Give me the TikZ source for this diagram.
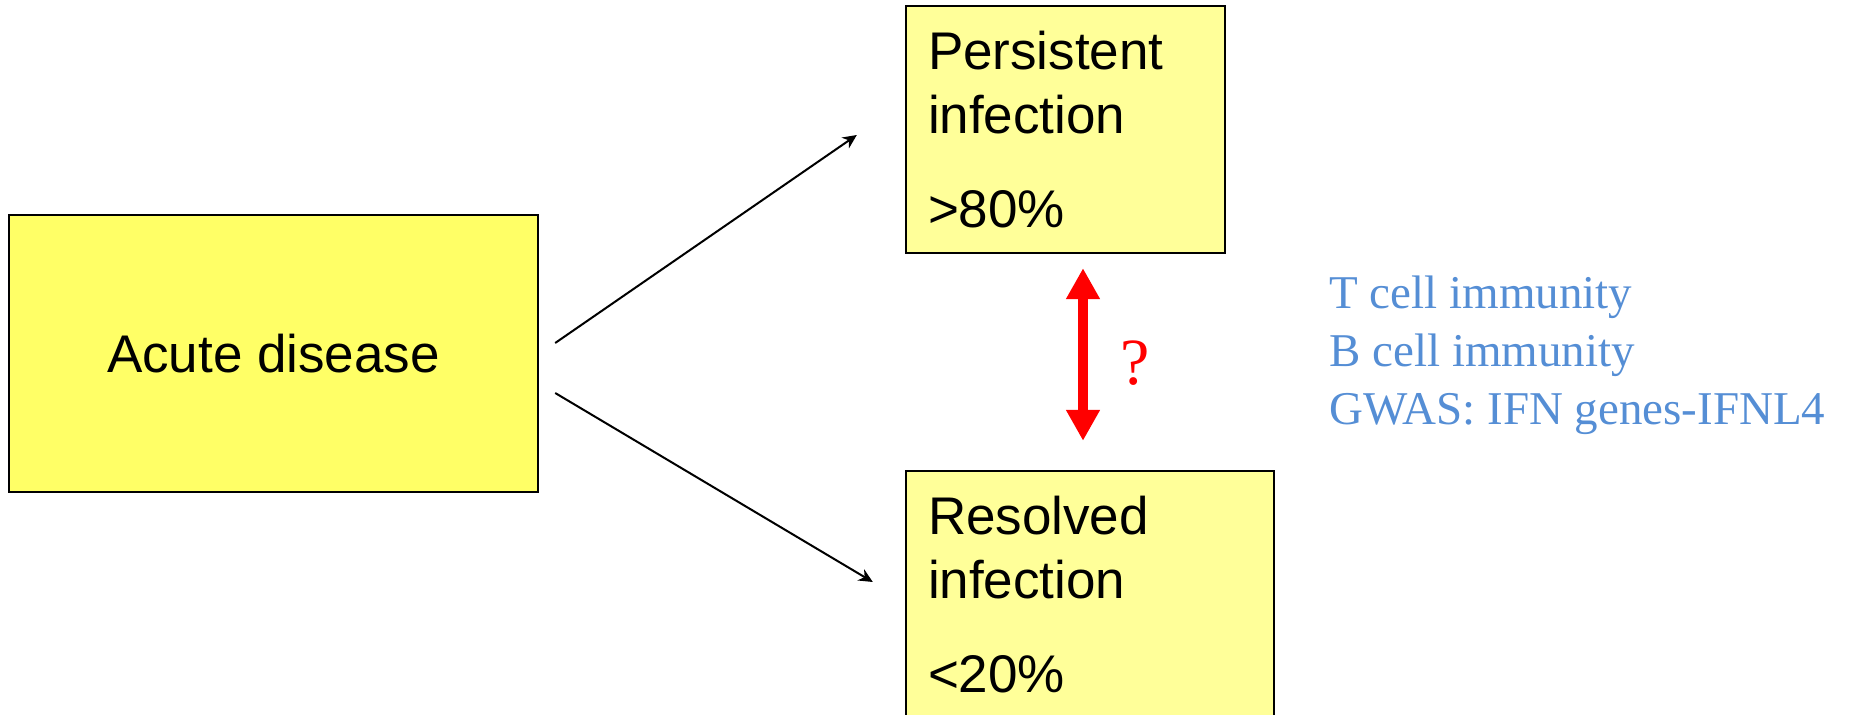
\documentclass[tikz,border=0pt]{standalone}
\usepackage{fontspec}
\setmainfont{Liberation Sans}
\newfontfamily\timesfont{Liberation Serif}
\usetikzlibrary{arrows.meta}
\definecolor{acuteyellow}{HTML}{FFFF66}
\definecolor{paleyellow}{HTML}{FFFF99}
\definecolor{factorblue}{HTML}{558ED5}
\tikzset{
  box/.style={draw=black,line width=1.2pt,inner sep=0pt,
    font=\fontsize{26.5}{32}\selectfont},
  outcome/.style={box,fill=paleyellow,align=left,minimum height=123.5pt},
  flow/.style={line width=1pt,-{Stealth[length=7pt,width=6.5pt]}},
}
\begin{document}
\begin{tikzpicture}[x=0.5pt,y=-0.5pt]
  \useasboundingbox (0,0) rectangle (1851,715);
  \node[box,fill=acuteyellow,minimum width=264.5pt,minimum height=138.5pt]
    (acute) at (273.5,353.5) {Acute disease};
  \node[outcome,minimum width=159.5pt,text width=137.5pt]
    (persist) at (1065.5,129.5) {Persistent\\infection\\[15pt]>80\%};
  \node[outcome,minimum width=184pt,text width=162pt]
    (resolved) at (1090,594.5) {Resolved\\infection\\[15pt]<20\%};
  \draw[flow] ([shift={(16,-10.5)}]acute.east) -- ([shift={(-48,5.5)}]persist.west);
  \draw[flow] ([shift={(16,39.5)}]acute.east) -- ([shift={(-32,-12.5)}]resolved.west);
  % two-way question between the outcomes
  \draw[red,line width=5pt,{Triangle[length=15.5pt,width=16pt]}-{Triangle[length=15.5pt,width=16pt]}]
    ([shift={(17.5,14)}]persist.south) -- ([shift={(-7,-29)}]resolved.north);
  \node[red,font=\timesfont\fontsize{33}{33}\selectfont,inner sep=0pt] (query) at (1135,363) {?};
  \node[factorblue,font=\timesfont\fontsize{23.5}{29}\selectfont,align=left,inner sep=0pt,anchor=base west]
    (factors) at (1329,425) {T cell immunity\\B cell immunity\\GWAS: IFN genes-IFNL4};
\end{tikzpicture}
\end{document}
